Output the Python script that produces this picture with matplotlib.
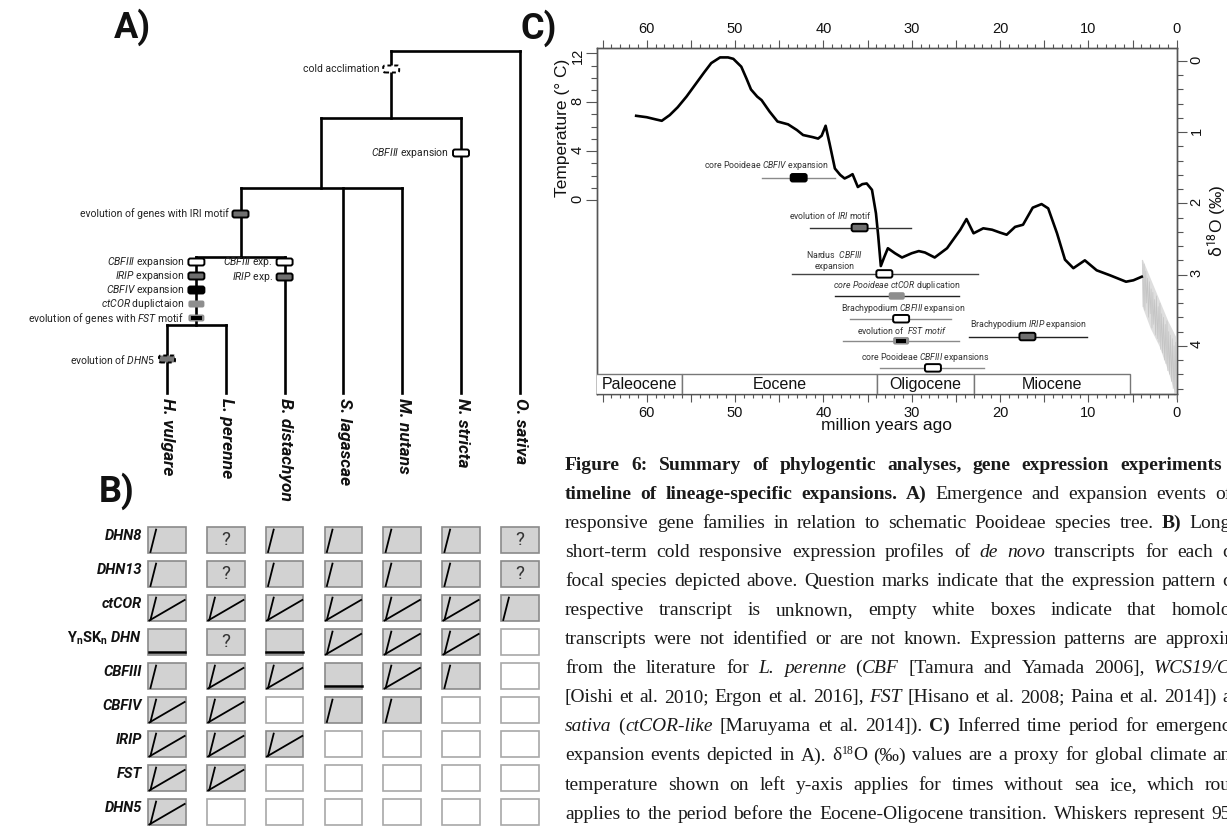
import numpy as np
import matplotlib
matplotlib.use("Agg")
import matplotlib.pyplot as plt
from matplotlib.patches import FancyBboxPatch, Rectangle
from matplotlib.transforms import ScaledTranslation, IdentityTransform, blended_transform_factory
from matplotlib.ticker import MultipleLocator, FixedLocator, FuncFormatter

plt.rcParams['font.family'] = ['Roboto', 'DejaVu Sans']
plt.rcParams['mathtext.fontset'] = 'custom'
plt.rcParams['mathtext.rm'] = 'Roboto'
plt.rcParams['mathtext.it'] = 'Roboto:italic'
plt.rcParams['mathtext.bf'] = 'Roboto:bold'
plt.rcParams['mathtext.bfit'] = 'Roboto:italic:bold'

# -----------------------------
# Data
# -----------------------------

species = ["H. vulgare", "L. perenne", "B. distachyon", "S. lagascae",
           "M. nutans", "N. stricta", "O. sativa"]

# schematic species tree: (node, height, children), ints are species indices
tree = ("root", 342, [("n1", 275, [("n2", 205, [("n3", 136, [("n4", 68, [0, 1]), 2]), 3, 4]), 5]), 6])

# events on the tree: (branch, height, label, box style)
tree_events = [
    ("n1", 324, "cold acclimation", "dashed"),
    (5, 240, r"$\it{CBFIII}$ expansion", "white"),
    ("n3", 179, "evolution of genes with IRI motif", "dark"),
    (2, 131, r"$\it{CBFIII}$ exp.", "white"),
    (2, 116, r"$\it{IRIP}$ exp.", "dark"),
    ("n4", 131, r"$\it{CBFIII}$ expansion", "white"),
    ("n4", 117, r"$\it{IRIP}$ expansion", "dark"),
    ("n4", 103, r"$\it{CBFIV}$ expansion", "black"),
    ("n4", 89, r"$\it{ctCOR}$ duplictaion", "light"),
    ("n4", 75, r"evolution of genes with $\it{FST}$ motif", "fst"),
    (0, 34, r"evolution of $\it{DHN5}$", "dashed_dark"),
]

genes = ["DHN8", "DHN13", "ctCOR", r"$\mathbf{Y_nSK_n}$ DHN", "CBFIII", "CBFIV", "IRIP", "FST", "DHN5"]
# s = short-term response, b = short- and long-term, f = no response,
# ? = unknown, e = not identified
expression = [
    ["s", "?", "s", "s", "s", "s", "?"],
    ["s", "?", "s", "s", "s", "s", "?"],
    ["b", "b", "b", "b", "b", "b", "s"],
    ["f", "?", "f", "b", "b", "b", "e"],
    ["s", "b", "b", "f", "b", "s", "e"],
    ["b", "b", "e", "s", "s", "e", "e"],
    ["b", "b", "b", "e", "e", "e", "e"],
    ["b", "b", "e", "e", "e", "e", "e"],
    ["b", "e", "e", "e", "e", "e", "e"],
]

# climate curve (million years ago, d18O permil)
ma = [61.2, 60.0, 59.0, 58.3, 57.4, 56.5, 55.5, 54.5, 53.5, 52.7, 51.7, 50.8, 50.2,
      49.3, 48.7, 48.2, 47.5, 47.0, 46.1, 45.2, 44.0, 43.0, 42.3, 41.2, 40.6, 40.2,
      39.75, 39.3, 38.7, 38.1, 37.6, 37.1, 36.7, 36.1, 35.6, 35.1, 34.5, 34.05, 33.8,
      33.5, 33.1, 32.7, 31.9, 31.1, 30.0, 29.2, 28.5, 27.4, 26.0, 24.5, 23.8, 23.0,
      21.9, 20.9, 20.0, 19.25, 18.3, 17.4, 16.3, 15.3, 14.55, 13.55, 12.65, 11.7,
      10.4, 9.06, 7.55, 5.74, 4.9, 3.96]
d18o = [0.77, 0.79, 0.82, 0.84, 0.76, 0.65, 0.50, 0.33, 0.16, 0.03, -0.05, -0.05, -0.03,
        0.08, 0.25, 0.40, 0.50, 0.55, 0.71, 0.85, 0.89, 0.97, 1.04, 1.07, 1.09, 1.05,
        0.91, 1.16, 1.51, 1.60, 1.65, 1.62, 1.59, 1.77, 1.73, 1.72, 1.81, 2.14, 2.45,
        2.88, 2.75, 2.63, 2.70, 2.76, 2.70, 2.67, 2.69, 2.76, 2.63, 2.37, 2.22, 2.42,
        2.35, 2.37, 2.41, 2.44, 2.33, 2.30, 2.06, 2.01, 2.07, 2.42, 2.79, 2.91,
        2.80, 2.94, 3.01, 3.10, 3.08, 3.03]

# high-resolution Pliocene/Pleistocene record (grey)
noise_ma = [3.9, 3.8, 3.7, 3.6, 3.5, 3.4, 3.3, 3.2, 3.1, 3.0, 2.9, 2.8, 2.7, 2.6, 2.5,
            2.4, 2.3, 2.2, 2.1, 2.0, 1.9, 1.8, 1.7, 1.6, 1.5, 1.4, 1.3, 1.2, 1.1, 1.0,
            0.9, 0.8, 0.7, 0.6, 0.5, 0.4, 0.3, 0.2, 0.1, 0.0]
noise_d18o = [2.80, 3.45, 2.85, 3.50, 2.95, 3.40, 3.05, 3.60, 3.10, 3.55, 3.20, 3.75,
              3.25, 3.70, 3.35, 3.85, 3.30, 3.90, 3.45, 3.95, 3.40, 4.05, 3.55, 4.10,
              3.60, 4.20, 3.70, 4.25, 3.65, 4.35, 3.80, 4.40, 3.85, 4.50, 3.90, 4.60,
              4.00, 4.70, 3.95, 4.75]
env_ma = [3.9, 3.0, 2.0, 1.0, 0.0]
env_top = [2.78, 3.05, 3.35, 3.65, 3.90]
env_bot = [3.45, 3.75, 4.00, 4.35, 4.75]

epochs = ["Paleocene", "Eocene", "Oligocene", "Miocene"]
epoch_start = [66.0, 56.0, 33.9, 23.0]
epoch_end = [56.0, 33.9, 23.0, 5.3]

events = [r"core Pooideae $\it{CBFIV}$ expansion",
          r"evolution of $\it{IRI}$ motif",
          "Nardus  $\\it{CBFIII}$\nexpansion",
          r"$\it{core\ Pooideae\ ctCOR}$ duplication",
          r"Brachypodium $\it{CBFIII}$ expansion",
          r"evolution of  $\it{FST\ motif}$",
          r"Brachypodium $\it{IRIP}$ expansion",
          r"core Pooideae $\it{CBFIII}$ expansions"]
event_mid = [42.8, 35.9, 33.1, 31.7, 31.2, 31.2, 16.9, 27.6]
event_young = [38.7, 30.1, 22.5, 24.7, 25.6, 24.6, 10.1, 21.8]
event_old = [47.0, 41.5, 43.6, 38.7, 37.0, 37.8, 23.5, 33.6]
event_style = ["black", "dark", "white", "light", "white", "fst", "dark", "white"]
event_whisker = ["#8a8a8a", "#333333", "#444444", "#222222", "#8a8a8a", "#8a8a8a", "#222222", "#8a8a8a"]
# layout: row of each event (in d18O units) and label centre
event_row = [1.64, 2.34, 2.99, 3.30, 3.62, 3.93, 3.87, 4.31]
event_label_ma = [46.4, 39.2, 38.7, 31.7, 31.0, 31.1, 16.8, 28.4]
event_label_dy = [12, 12, 14, 10.5, 10, 10.5, 12.5, 10.5]

caption_lines = [
    "**Figure 6: Summary of phylogentic analyses, gene expression experiments**",
    "**timeline of lineage-specific expansions. A)** Emergence and expansion events of",
    "responsive gene families in relation to schematic Pooideae species tree. **B)** Long",
    "short-term cold responsive expression profiles of *de novo* transcripts for each c",
    "focal species depicted above. Question marks indicate that the expression pattern c",
    "respective transcript is unknown, empty white boxes indicate that homolo",
    "transcripts were not identified or are not known. Expression patterns are approxir",
    "from the literature for *L. perenne* (*CBF* [Tamura and Yamada 2006], *WCS19/C*",
    "[Oishi et al. 2010; Ergon et al. 2016], *FST* [Hisano et al. 2008; Paina et al. 2014]) a",
    "*sativa* (*ctCOR-like* [Maruyama et al. 2014]). **C)** Inferred time period for emergenc",
    "expansion events depicted in A). \u03b4^18^O (\u2030) values are a proxy for global climate an",
    "temperature shown on left y-axis applies for times without sea ice, which rou",
    "applies to the period before the Eocene-Oligocene transition. Whiskers represent 95",
]

# -----------------------------
# Figure
# -----------------------------

W, H = 1227, 826
fig = plt.figure(figsize=(W / 100, H / 100), dpi=100)


def fx(px):
    return px / W


def fy(py):
    return 1 - py / H


BOX_STYLES = {
    "white": dict(fc="white", ec="black", ls="solid"),
    "dark": dict(fc="#6f6f6f", ec="black", ls="solid"),
    "black": dict(fc="black", ec="black", ls="solid"),
    "light": dict(fc="#8e8e8e", ec="none", ls="solid"),
    "fst": dict(fc="#8e8e8e", ec="none", ls="solid"),
    "dashed": dict(fc="white", ec="black", ls=(0, (2, 1.5))),
    "dashed_dark": dict(fc="#777777", ec="black", ls=(0, (2, 1.5))),
}


def draw_box(ax, x, y, style, w=16, h=7):
    st = BOX_STYLES[style]
    trans = ScaledTranslation(x, y, ax.transData)
    p = FancyBboxPatch((-w / 2, -h / 2), w, h, boxstyle="round,pad=0,rounding_size=2",
                       fc=st["fc"], ec=st["ec"], ls=st["ls"], lw=1.4,
                       transform=trans, zorder=6, clip_on=False)
    ax.add_patch(p)
    if style == "fst":
        q = Rectangle((-w * 0.33, -h * 0.28), w * 0.66, h * 0.56, fc="black", ec="none",
                      transform=trans, zorder=7, clip_on=False)
        ax.add_patch(q)


# ---- Panel A: tree ----
axA = fig.add_axes([fx(137.6), fy(420), 411.6 / W, 390 / H])
axA.set_xlim(-0.5, 6.5)
axA.set_ylim(-27, 363)
axA.axis("off")

node_x = {}


def draw_tree(node):
    if isinstance(node, int):
        return node, 0
    name, h, kids = node
    pos = [draw_tree(k) for k in kids]
    x = (pos[0][0] + pos[-1][0]) / 2
    axA.plot([pos[0][0], pos[-1][0]], [h, h], color="black", lw=1.9,
             solid_capstyle="projecting")
    for cx, ch in pos:
        axA.plot([cx, cx], [ch, h], color="black", lw=1.9, solid_capstyle="projecting")
    node_x[name] = x
    return x, h


draw_tree(tree)

for i, name in enumerate(species):
    axA.annotate(name, (i, 0), xytext=(1, -5), textcoords="offset pixels",
                 rotation=-90, ha="center", va="top", fontsize=12.5,
                 fontweight="bold", fontstyle="italic", color="#111111")

for branch, h, label, style in tree_events:
    x = node_x[branch] if isinstance(branch, str) else branch
    draw_box(axA, x, h, style)
    axA.annotate(label, (x, h), xytext=(-12, 0), textcoords="offset pixels",
                 ha="right", va="center", fontsize=7.5, color="#222222")

# ---- Panel B: expression grid ----
axB = fig.add_axes([fx(137.6), 0, 411.6 / W, 306 / H])
axB.set_xlim(-0.5, 6.5)
axB.set_ylim(286 / 34, -20 / 34)
axB.axis("off")
cw, ch = 37.6 / 58.8, 26 / 34

for r, gene in enumerate(genes):
    axB.annotate(gene, (-0.5 + (1 - cw) / 2, r), xytext=(-6, 4), textcoords="offset pixels",
                 ha="right", va="center", fontsize=10.5, fontweight="bold",
                 fontstyle="italic", color="#111111")
    for c, code in enumerate(expression[r]):
        x0, y0 = c - cw / 2, r + ch / 2
        filled = code != "e"
        axB.add_patch(Rectangle((x0, r - ch / 2), cw, ch,
                                fc="#d2d2d2" if filled else "white",
                                ec="#8a8a8a" if filled else "#a8a8a8", lw=1.2, zorder=2))
        if code in ("s", "b"):
            axB.plot([x0 + 0.06 * cw, x0 + 0.21 * cw], [y0 - 0.04 * ch, y0 - 0.9 * ch],
                     color="black", lw=1.3, zorder=3)
        if code == "b":
            axB.plot([x0 + 0.03 * cw, x0 + 0.97 * cw], [y0 - 0.02 * ch, y0 - 0.81 * ch],
                     color="black", lw=1.3, zorder=3)
        if code == "f":
            axB.plot([x0 + 0.01 * cw, x0 + 0.99 * cw], [y0 - 0.13 * ch, y0 - 0.13 * ch],
                     color="black", lw=1.8, zorder=3)
        if code == "?":
            axB.text(c, r, "?", ha="center", va="center", fontsize=13.5, color="#333333")

# ---- Panel C: timeline ----
axT = fig.add_axes([fx(597.3), fy(394), 579.4 / W, 345.7 / H])
axD = axT.twinx()
axT.set_xlim(65.6, 0)
axT.set_ylim(-15.88, 12.41)
axD.set_ylim(4.677, -0.178)

sans = "Liberation Sans"
for a in (axT, axD):
    for sp in a.spines.values():
        sp.set_color("#555555")
        sp.set_linewidth(1.0)

axD.plot(ma, d18o, color="black", lw=1.9, solid_joinstyle="round", zorder=3)
axD.fill_between(env_ma, env_top, env_bot, color="#dedede", lw=0, clip_on=False, zorder=2)
axD.plot(noise_ma, noise_d18o, color="#c4c4c4", lw=0.5, clip_on=False, zorder=2)

band = blended_transform_factory(axD.transData, axD.transAxes)
xl = axT.get_xlim()[0]
for name, s, e in zip(epochs, epoch_start, epoch_end):
    axD.add_patch(Rectangle((s, 0), e - s, 0.057, transform=band, fc="white",
                            ec="#777777", lw=1.0, zorder=4))
    axD.text((min(s, xl) + e) / 2, 0.027, name, transform=band, ha="center", va="center",
             fontsize=11.5, family=sans, color="#111111", zorder=5)

for i, label in enumerate(events):
    axD.plot([event_young[i], event_old[i]], [event_row[i], event_row[i]],
             color=event_whisker[i], lw=1.0, zorder=5)
    draw_box(axD, event_mid[i], event_row[i], event_style[i], w=16, h=7.5)
    axD.annotate(label, (event_label_ma[i], event_row[i]), xytext=(0, event_label_dy[i]),
                 textcoords="offset pixels", ha="center", va="center", fontsize=6.3,
                 color="#333333", linespacing=1.25)

axT.xaxis.set_major_locator(MultipleLocator(5))
axT.xaxis.set_minor_locator(MultipleLocator(1))
axT.xaxis.set_major_formatter(FuncFormatter(lambda v, p: f"{abs(v):.0f}" if round(v) % 10 == 0 else ""))
axT.tick_params(axis="x", which="both", top=True, labeltop=True, bottom=True,
                labelbottom=True, direction="out", color="#555555", width=0.8)
axT.tick_params(axis="x", which="major", length=5.5, pad=3, labelsize=10.5, labelcolor="#111111")
axT.tick_params(axis="x", which="minor", length=2.8)

axT.yaxis.set_major_locator(FixedLocator([0, 4, 8, 12]))
axT.yaxis.set_minor_locator(FixedLocator([1, 2, 3, 5, 6, 7, 9, 10, 11]))
axT.tick_params(axis="y", which="both", color="#555555", width=0.8)
axT.tick_params(axis="y", which="major", length=7.7, pad=1.5, labelrotation=90,
                labelsize=10.5, labelcolor="#111111")
axT.tick_params(axis="y", which="minor", length=4)

axD.yaxis.set_major_locator(FixedLocator([0, 1, 2, 3, 4]))
axD.yaxis.set_minor_locator(FixedLocator(np.arange(0, 4.61, 0.2)))
axD.tick_params(axis="y", which="both", color="#555555", width=0.8)
axD.tick_params(axis="y", which="major", length=7.2, pad=2, labelrotation=90,
                labelsize=10.5, labelcolor="#111111")
axD.tick_params(axis="y", which="minor", length=4.3)

for lab in axT.get_xticklabels() + axT.get_yticklabels() + axD.get_yticklabels():
    lab.set_family(sans)

axT.set_xlabel("million years ago", fontsize=12.5, family=sans, color="#111111")
axT.xaxis.set_label_coords(0.5, -0.07)
axT.set_ylabel("Temperature (\u00b0 C)", fontsize=12.5, family=sans, color="#111111")
axT.yaxis.set_label_coords(-0.047, 0.769)
axD.set_ylabel("$\\mathrm{\\delta}^{18}$O (\u2030)", fontsize=12.5, family=sans, color="#111111")
axD.yaxis.set_label_coords(1.049, 0.5)

# ---- panel letters ----
for letter, (px, py) in zip(["A)", "B)", "C)"], [(132, 27), (117, 491), (539, 28)]):
    fig.text(fx(px), fy(py), letter, fontsize=26, fontweight="bold", ha="center",
             va="center", color="#111111")

# ---- caption (justified, runs off the right edge as in the source) ----


def parse_markup(line):
    words, word, buf = [], [], ""
    bold = ital = sup = False
    i = 0
    while i <= len(line):
        ch = line[i] if i < len(line) else " "
        tok = "**" if line.startswith("**", i) else ch
        if tok in ("**", "*", "^", " "):
            if buf:
                word.append((buf, bold, ital, sup))
                buf = ""
            if tok == "**":
                bold = not bold
            elif tok == "*":
                ital = not ital
            elif tok == "^":
                sup = not sup
            elif word:
                words.append(word)
                word = []
            i += len(tok)
        else:
            buf += ch
            i += 1
    return words


def piece_props(bold, ital, sup):
    return dict(family="Liberation Serif", fontsize=8.5 if sup else 14,
                fontweight="bold" if bold else "normal",
                fontstyle="italic" if ital else "normal", color="#1a1a1a")


renderer = fig.canvas.get_renderer()


def text_width(s, props):
    t = fig.text(0, 0, s, transform=IdentityTransform(), **props)
    w = t.get_window_extent(renderer).width
    t.remove()
    return w


x_left = 565
for k, line in enumerate(caption_lines):
    words = parse_markup(line)
    widths = [[text_width(p[0], piece_props(*p[1:])) for p in w] for w in words]
    natural = sum(sum(w) for w in widths)
    x_right = 1222 if k == 0 else 1231
    gap = max((x_right - x_left - natural) / max(len(words) - 1, 1), 3.0)
    base = 469.5 + 29.1 * k
    x = x_left
    for word, ws in zip(words, widths):
        for (s, b, it, sp), w in zip(word, ws):
            fig.text(x, H - base + (6 if sp else 0), s, transform=IdentityTransform(),
                     va="baseline", ha="left", **piece_props(b, it, sp))
            x += w
        x += gap

fig.savefig("out.png", dpi=100)
